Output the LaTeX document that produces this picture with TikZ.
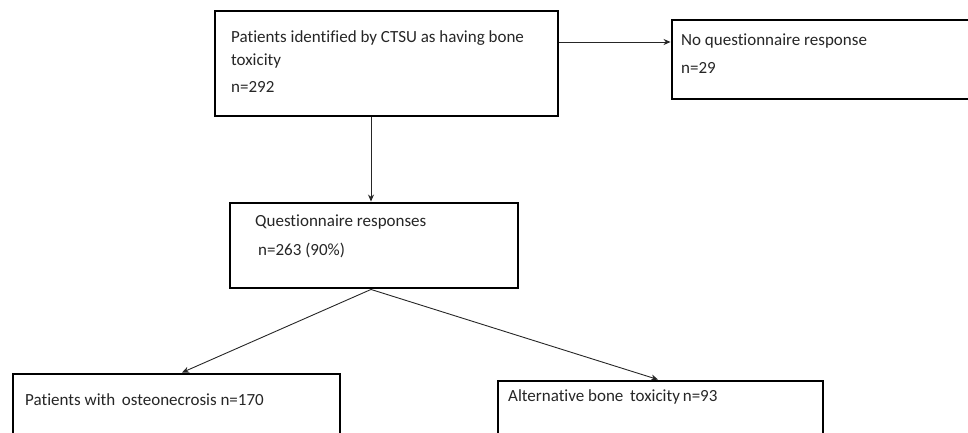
\documentclass[tikz,border=0pt]{standalone}
\usepackage{fontspec}
\setmainfont{Carlito}[Ligatures=NoCommon]
\usetikzlibrary{arrows.meta}
\begin{document}
\begin{tikzpicture}[x=1pt,y=-1pt,
  box/.style={draw=black, line width=2.9pt, fill=white, inner sep=0pt},
  lbl/.style={anchor=west, inner sep=0pt, font=\fontsize{17}{19}\selectfont, text=black!85},
  conn/.style={line width=0.9pt, black!85, -{Stealth[length=7pt,width=6pt]}}]
\useasboundingbox (0,0) rectangle (968,433);
\clip (0,0) rectangle (968,433);
\node[box, minimum width=343pt, minimum height=105pt] (b1) at (386.5,63.5) {};
\node[box, minimum width=310pt, minimum height=79pt] (b2) at (827,59.5) {};
\node[box, minimum width=288pt, minimum height=85pt] (b3) at (374,245.5) {};
\node[box, minimum width=327pt, minimum height=100pt] (b4) at (176.5,424) {};
\node[box, minimum width=325pt, minimum height=100pt] (b5) at (660.5,431) {};

\node[lbl] (t1a) at (231,38) {Patients identified by CTSU as having bone};
\node[lbl] (t1b) at (231,61) {toxicity};
\node[lbl] (t1c) at (231,87) {n=292};
\node[lbl] (t2a) at (681,41) {No questionnaire response};
\node[lbl] (t2b) at (681,68) {n=29};
\node[lbl] (t3a) at (255,222) {Questionnaire responses};
\node[lbl] (t3b) at (258,250) {n=263 (90\%)};
\node[lbl] (t4) at (25,400) {Patients with \,osteonecrosis n=170};
\node[lbl] (t5) at (508,397) {Alternative bone \,toxicity\hspace{-1pt} n=93};

\draw[conn] (b1.east |- 0,42) -- (b2.west |- 0,42);
\draw[conn] (b1.south -| 371,0) -- (b3.north -| 371,0);
\draw[conn] (b3.south -| 371,0) -- (b4.north -| 182,0);
\draw[conn] (b3.south -| 371,0) -- (b5.north -| 658,0);
\end{tikzpicture}
\end{document}
